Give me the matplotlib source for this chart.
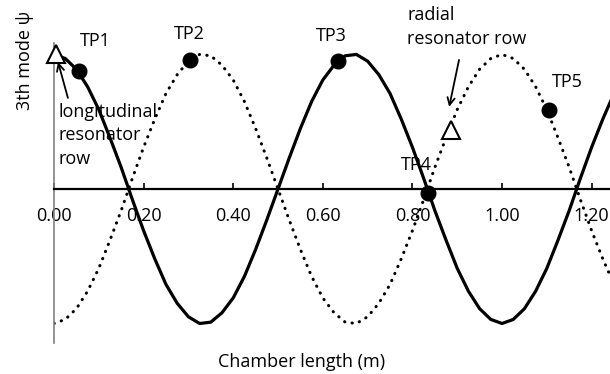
import matplotlib.pyplot as plt

plt.rcParams['font.family'] = ['Open Sans', 'DejaVu Sans']
plt.rcParams['font.size'] = 13

# chamber position (m) and the two 3rd-mode shapes sampled along it
pos = [0.000, 0.025, 0.050, 0.075, 0.100, 0.125, 0.150, 0.175, 0.200, 0.225,
       0.250, 0.275, 0.300, 0.325, 0.350, 0.375, 0.400, 0.425, 0.450, 0.475,
       0.500, 0.525, 0.550, 0.575, 0.600, 0.625, 0.650, 0.675, 0.700, 0.725,
       0.750, 0.775, 0.800, 0.825, 0.850, 0.875, 0.900, 0.925, 0.950, 0.975,
       1.000, 1.025, 1.050, 1.075, 1.100, 1.125, 1.150, 1.175, 1.200, 1.225,
       1.250]
longitudinal = [1.00, 0.97, 0.89, 0.76, 0.59, 0.38, 0.16, -0.08, -0.31, -0.52,
                -0.71, -0.85, -0.95, -1.00, -0.99, -0.92, -0.81, -0.65, -0.45, -0.23,
                0.00, 0.23, 0.45, 0.65, 0.81, 0.92, 0.99, 1.00, 0.95, 0.85,
                0.71, 0.52, 0.31, 0.08, -0.16, -0.38, -0.59, -0.76, -0.89, -0.97,
                -1.00, -0.97, -0.89, -0.76, -0.59, -0.38, -0.16, 0.08, 0.31, 0.52,
                0.71]
radial = [-1.00, -0.97, -0.89, -0.76, -0.59, -0.38, -0.16, 0.08, 0.31, 0.52,
          0.71, 0.85, 0.95, 1.00, 0.99, 0.92, 0.81, 0.65, 0.45, 0.23,
          0.00, -0.23, -0.45, -0.65, -0.81, -0.92, -0.99, -1.00, -0.95, -0.85,
          -0.71, -0.52, -0.31, -0.08, 0.16, 0.38, 0.59, 0.76, 0.89, 0.97,
          1.00, 0.97, 0.89, 0.76, 0.59, 0.38, 0.16, -0.08, -0.31, -0.52,
          -0.71]

# test points
tp_names = ['TP1', 'TP2', 'TP3', 'TP4', 'TP5']
tp_x = [0.056, 0.304, 0.635, 0.834, 1.105]
tp_y = [0.88, 0.96, 0.95, -0.03, 0.59]
# label offsets from each point, in pixels (dx, dy up)
tp_off = [(16, 30), (-1, 26), (-7, 25), (-11, 28), (18, 28)]

# resonator rows
res_x = [0.004, 0.885]
res_y = [1.00, 0.44]

xticks = [0.0, 0.2, 0.4, 0.6, 0.8, 1.0, 1.2]

W, H = 610, 374
fig = plt.figure(figsize=(W / 100, H / 100), dpi=100)
ax = fig.add_axes([54 / W, (H - 343) / H, (W - 54) / W, 300 / H])

ax.plot(pos, longitudinal, color='black', lw=2.3, solid_capstyle='round')
ax.plot(pos, radial, color='black', lw=2.2, linestyle=(0, (0.1, 2.4)),
        dash_capstyle='round')

ax.plot(tp_x, tp_y, 'o', color='black', ms=10.5, zorder=5)
ax.plot(res_x, res_y, '^', mfc='white', mec='black', mew=1.5, ms=13,
        zorder=6, clip_on=False)

for name, x, y, (dx, dy) in zip(tp_names, tp_x, tp_y, tp_off):
    ax.annotate(name, (x, y), xytext=(dx * 0.72, dy * 0.72),
                textcoords='offset points', ha='center', va='center')

# resonator row callouts
ax.text(0.009, 0.40, 'longitudinal\nresonator\nrow', ha='left', va='center',
        linespacing=1.4)
ax.annotate('', xy=(0.009, 0.944), xytext=(0.031, 0.677),
            arrowprops=dict(arrowstyle='->', color='black', lw=1.3,
                            shrinkA=0, shrinkB=0))
ax.text(0.788, 1.205, 'radial\nresonator row', ha='left', va='center',
        linespacing=1.4)
ax.annotate('', xy=(0.882, 0.610), xytext=(0.904, 0.959),
            arrowprops=dict(arrowstyle='->', color='black', lw=1.3,
                            shrinkA=0, shrinkB=0))

ax.set_xlim(0, 1.241)
ax.set_ylim(-1.145, 1.085)

ax.spines['top'].set_visible(False)
ax.spines['right'].set_visible(False)
ax.spines['bottom'].set_position(('data', 0))
ax.spines['bottom'].set_linewidth(1.6)
ax.spines['left'].set_color('#808080')
ax.spines['left'].set_linewidth(1.2)

ax.set_xticks(xticks)
ax.set_xticklabels(['%.2f' % t for t in xticks])
ax.tick_params(axis='x', direction='in', length=4.5, width=1.2, pad=13)
ax.set_yticks([])

fig.text(302 / W, 1 - 362 / H, 'Chamber length (m)', ha='center', va='center')
fig.text(25 / W, 1 - 60 / H, '3th mode ψ', ha='center', va='center',
         rotation=90)

fig.savefig('out.png', dpi=100)
